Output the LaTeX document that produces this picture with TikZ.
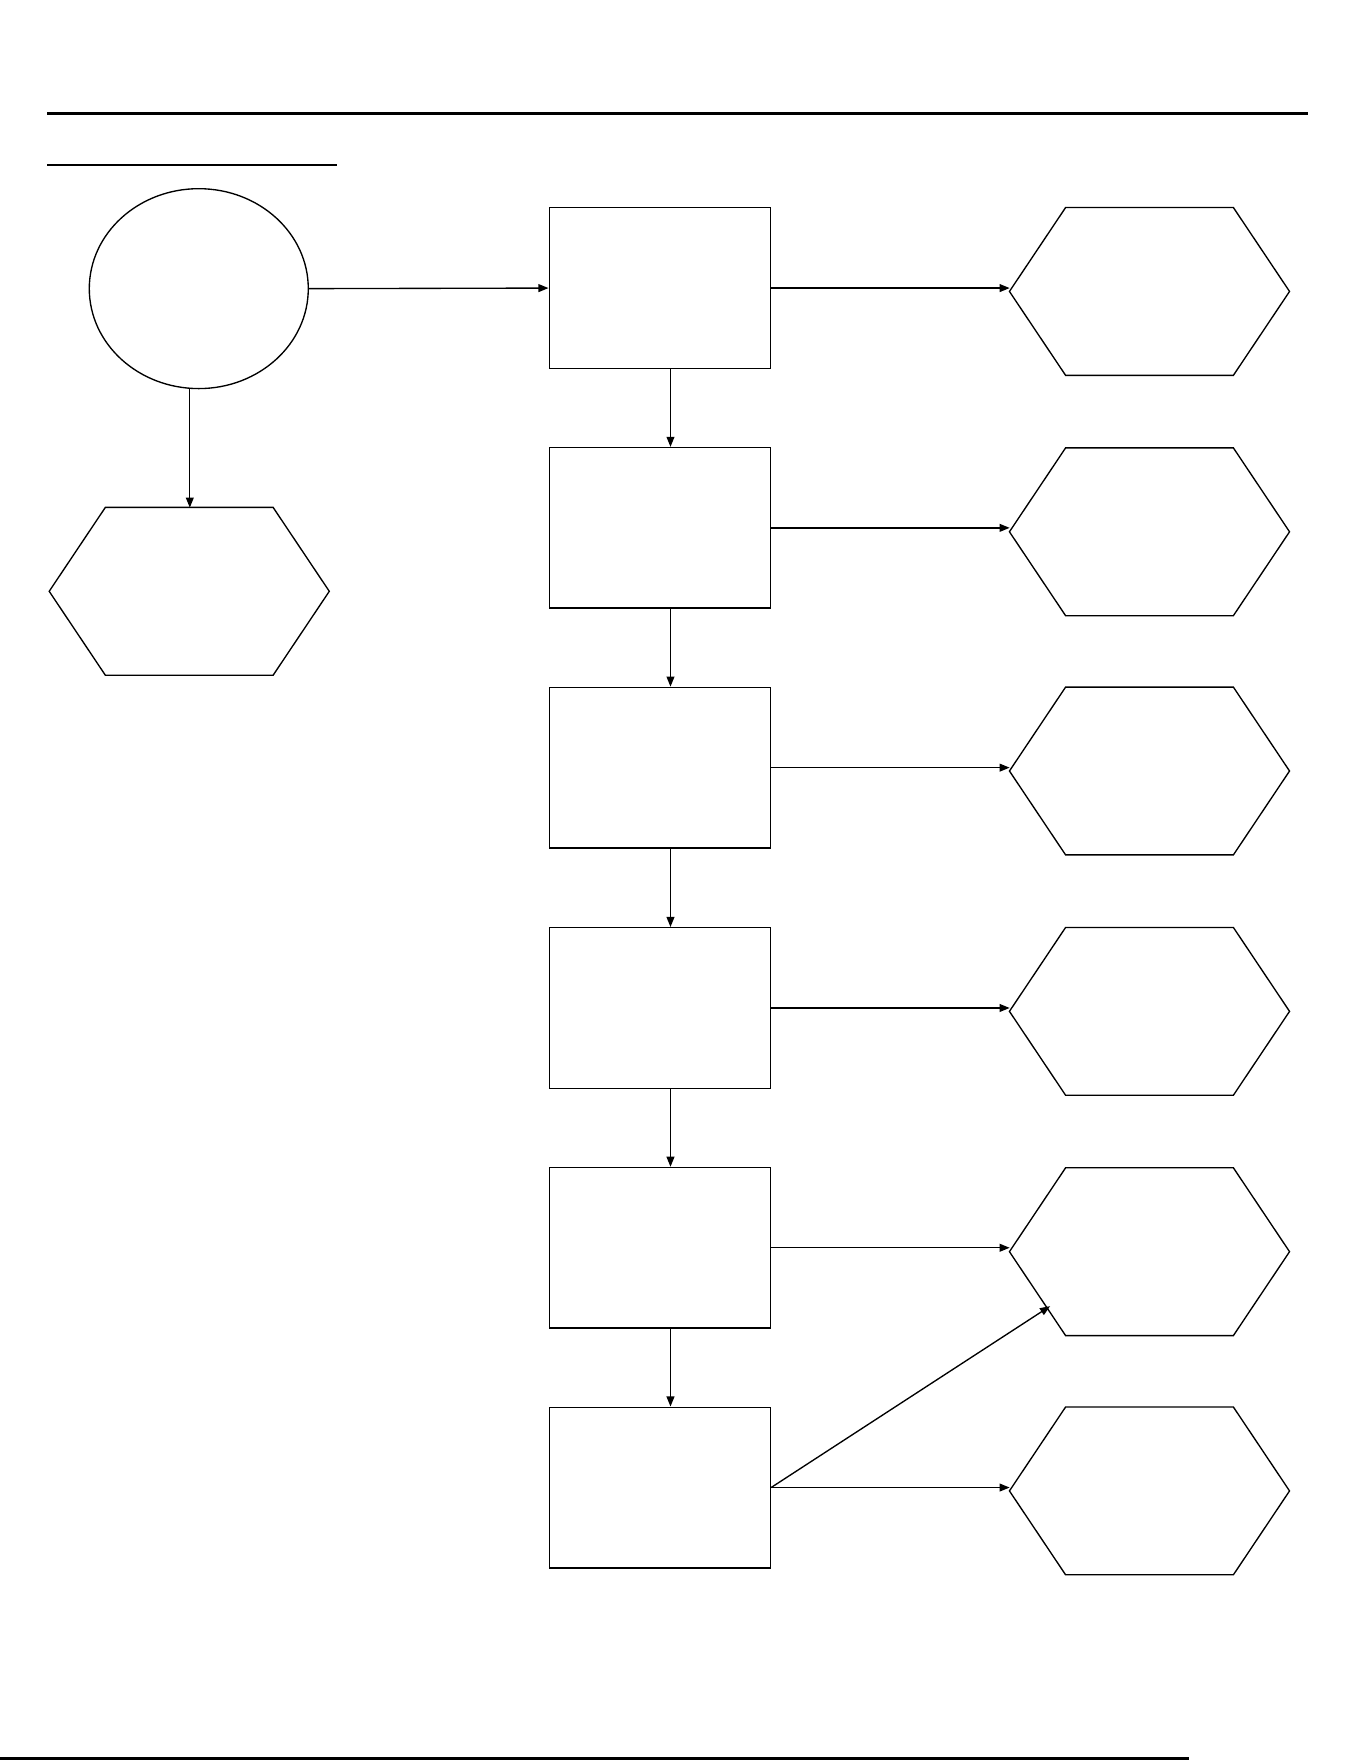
\documentclass[tikz,border=0pt]{standalone}
\usetikzlibrary{arrows.meta,shapes.geometric}
\newcommand{\myhex}[3]{%
  \node[hexbox] (#1) at (#2,#3) {};
  \draw[line width=1.2pt] (#1.west) -- ([xshift=50pt]#1.north west) -- ([xshift=-50pt]#1.north east) -- (#1.east) -- ([xshift=-50pt]#1.south east) -- ([xshift=50pt]#1.south west) -- cycle;}
\begin{document}
\begin{tikzpicture}[x=1pt,y=-1pt,
  boxx/.style={draw,line width=1.2pt,minimum width=197pt,minimum height=143pt,inner sep=0pt},
  hexbox/.style={minimum width=249pt,minimum height=149pt,inner sep=0pt},
  arr/.style={line width=1.2pt,-{Triangle[length=9pt,width=7pt]}}]
\useasboundingbox (0,0) rectangle (1212,1568);
\draw[line width=3pt] (42,101) coordinate (t1) -- (1165,101) coordinate (t2);
\draw[line width=2pt] (42,147) coordinate (u1) -- (300,147) coordinate (u2);
\draw[line width=3pt] (0,1566) coordinate (b1) -- (1059,1566) coordinate (b2);
\node[draw,line width=1.2pt,ellipse,minimum width=195pt,minimum height=178pt,inner sep=0pt] (c) at (177,257) {};
\myhex{hl}{168.5}{526.5}
\foreach \i/\y in {1/256.5,2/470,3/683.5,4/897.5,5/1111,6/1324.5}{
  \node[boxx] (b\i) at (587.5,\y) {};
}
\foreach \i/\y in {1/259.5,2/473.5,3/686.5,4/900.5,5/1114.5,6/1327.5}{
  \myhex{h\i}{1023.5}{\y}
}
\draw[arr] (c.east) -- (b1.west);
\draw[arr] (169,346) coordinate (cb) -- (169,452);
\foreach \i in {1,...,6}{ \draw[arr] (b\i.east) -- (899,0 |- b\i.east); }
\foreach \i/\j in {1/2,2/3,3/4,4/5,5/6}{ \draw[arr] ([xshift=9.5pt]b\i.south) -- ([xshift=9.5pt]b\j.north); }
\draw[arr] (b6.east) -- (935,1163);
\end{tikzpicture}
\end{document}
